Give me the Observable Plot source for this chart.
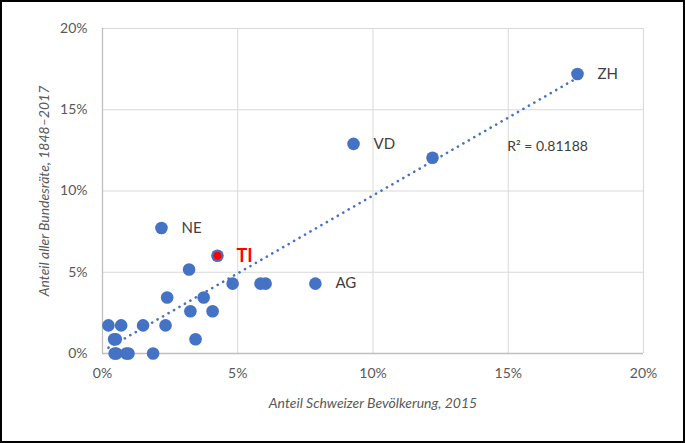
<!DOCTYPE html>
<html><head><meta charset="utf-8">
<script src="https://cdn.jsdelivr.net/npm/d3@7"></script>
<script src="https://cdn.jsdelivr.net/npm/@observablehq/plot@0.6"></script>
<style>
html,body{margin:0;padding:0;background:#fff;}
#wrap{position:relative;width:685px;height:443px;overflow:hidden;}
#frame{position:absolute;left:0;top:0;width:685px;height:443px;box-sizing:border-box;border:2px solid #000;pointer-events:none;}
</style></head><body>
<div id="wrap"><div id="frame"></div></div>
<script>
// Canton, share of Swiss population 2015 (%), share of all federal councillors 1848–2017 (%)
const cantons      = ["ZH","BE","VD","AG","SG","GE","LU","TI","VS","FR","BL","TG","SO","GR","BS","NE","SZ","ZG","SH","JU","AR","NW","GL","OW","UR","AI"];
const popShare     = [17.56,12.20,9.28,7.87,6.03,5.84,4.81,4.25,4.07,3.74,3.44,3.25,3.20,2.39,2.33,2.18,1.87,1.50,0.96,0.88,0.69,0.51,0.49,0.45,0.43,0.22];
const councilShare = [17.2,12.05,12.9,4.3,4.3,4.3,4.3,6.02,2.6,3.45,0.88,2.6,5.17,3.45,1.73,7.72,0,1.73,0,0,1.73,0,0.88,0,0.88,1.73];
const xTicks = [0,5,10,15,20];
const yTicks = [0,5,10,15,20];
const labelled = ["ZH","VD","NE","AG"];
const highlighted = ["TI"];
const r2Text = "R\u00b2 = 0.81188";
const xTitle = "Anteil Schweizer Bevölkerung, 2015";
const yTitle = "Anteil aller Bundesräte, 1848–2017";

const data = cantons.map((c, i) => ({canton: c, pop: popShare[i], council: councilShare[i]}));
const pct = d => d + "%";
const blue = "#4472C4";

const chart = Plot.plot({
  width: 685,
  height: 443,
  marginLeft: 102,
  marginRight: 42,
  marginTop: 28,
  marginBottom: 90,
  style: {fontFamily: "Lato, 'Open Sans', sans-serif", fontSize: "14px", background: "transparent"},
  x: {domain: [0, 20]},
  y: {domain: [0, 20]},
  marks: [
    Plot.gridX(xTicks, {stroke: "#d9d9d9", strokeOpacity: 1, strokeWidth: 1}),
    Plot.gridY(yTicks, {stroke: "#d9d9d9", strokeOpacity: 1, strokeWidth: 1}),
    Plot.ruleX([0], {stroke: "#bfbfbf", strokeWidth: 1.3}),
    Plot.ruleY([0], {stroke: "#bfbfbf", strokeWidth: 1.3}),
    Plot.axisX(xTicks, {tickSize: 0, tickPadding: 15, tickFormat: pct, color: "#595959", fontSize: 14, label: null}),
    Plot.axisY(yTicks, {tickSize: 0, tickPadding: 15, tickFormat: pct, color: "#595959", fontSize: 14, label: null}),
    Plot.text([xTitle], {frameAnchor: "bottom", dy: 50, textAnchor: "middle", lineAnchor: "middle", fill: "#595959", fontSize: 14, fontStyle: "italic"}),
    Plot.text([yTitle], {frameAnchor: "left", dx: -58, rotate: -90, textAnchor: "middle", lineAnchor: "middle", fill: "#595959", fontSize: 14, fontStyle: "italic"}),
    Plot.dot(data, {x: "pop", y: "council", r: 6.3, fill: blue}),
    Plot.dot(data.filter(d => highlighted.includes(d.canton)), {x: "pop", y: "council", r: 4, fill: "#FF0000"}),
    Plot.linearRegressionY(data, {x: "pop", y: "council", stroke: blue, strokeWidth: 2.6, strokeLinecap: "round", strokeDasharray: "0.1,6.2", ci: 0}),
    Plot.text(data.filter(d => labelled.includes(d.canton)), {x: "pop", y: "council", text: "canton", dx: 20, textAnchor: "start", fill: "#404040", fontSize: 15}),
    Plot.text(data.filter(d => highlighted.includes(d.canton)), {x: "pop", y: "council", text: "canton", dx: 19, dy: 1, textAnchor: "start", fill: "#FF0000", fontSize: 18, fontWeight: "bold"}),
    Plot.text([r2Text], {x: 14.96, y: 12.74, text: d => d, textAnchor: "start", fill: "#404040", fontSize: 14})
  ]
});
document.getElementById("wrap").prepend(chart);
</script>
</body></html>
